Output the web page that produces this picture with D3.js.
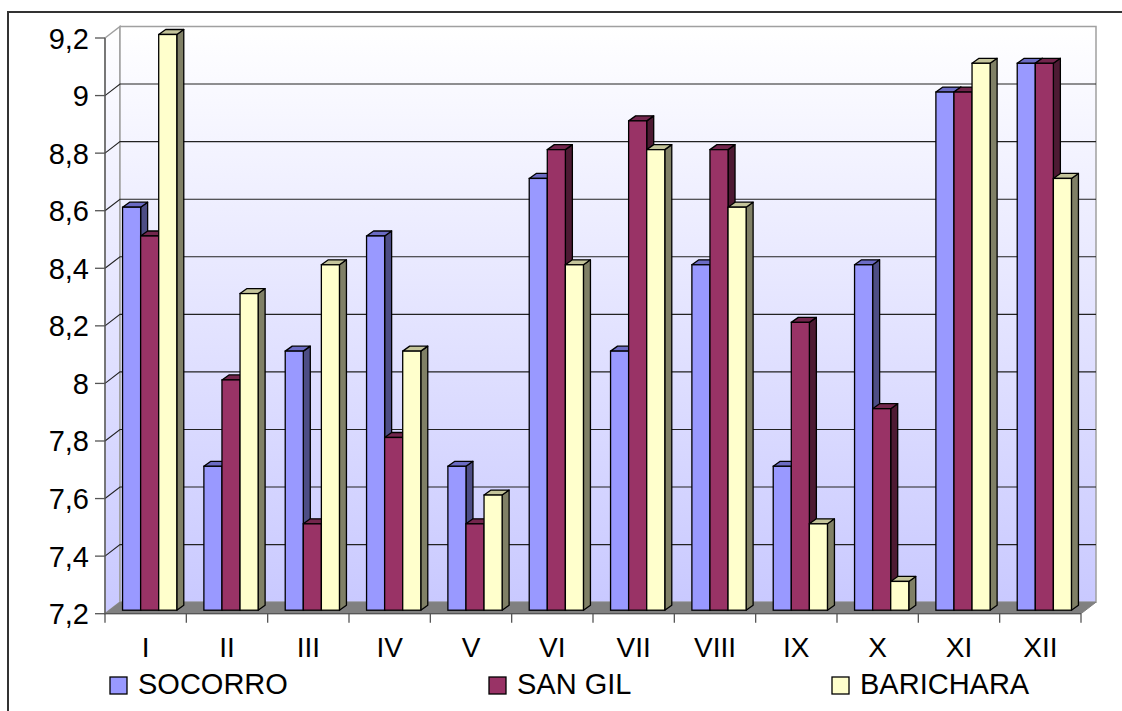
<!DOCTYPE html>
<html>
<head>
<meta charset="utf-8">
<script src="https://cdn.jsdelivr.net/npm/d3@7"></script>
<style>
  html, body { margin: 0; padding: 0; background: #ffffff; }
  svg { display: block; font-family: "Liberation Sans", Arial, sans-serif; }
</style>
</head>
<body>
<svg id="chart" width="1122" height="711"></svg>
<script>
const categories = ["I","II","III","IV","V","VI","VII","VIII","IX","X","XI","XII"];
const seriesNames = ["SOCORRO","SAN GIL","BARICHARA"];
const socorro   = [8.6, 7.7, 8.1, 8.5, 7.7, 8.7, 8.1, 8.4, 7.7, 8.4, 9.0, 9.1];
const sanGil    = [8.5, 8.0, 7.5, 7.8, 7.5, 8.8, 8.9, 8.8, 8.2, 7.9, 9.0, 9.1];
const barichara = [9.2, 8.3, 8.4, 8.1, 7.6, 8.4, 8.8, 8.6, 7.5, 7.3, 9.1, 8.7];
const yTicks = [7.2, 7.4, 7.6, 7.8, 8.0, 8.2, 8.4, 8.6, 8.8, 9.0, 9.2];
const yMin = 7.2, yMax = 9.2;

const seriesValues = [socorro, sanGil, barichara];
const palette = [
  {front: "#9999FF", top: "#6B6BC4", side: "#4D4D85"},
  {front: "#993366", top: "#73264D", side: "#4D1A33"},
  {front: "#FFFFCC", top: "#C4C49A", side: "#808066"}
];

const svg = d3.select("#chart");

// Outer frame (left + top visible)
svg.append("path").attr("d", "M8,711 L8,12 L1122,12")
  .attr("fill", "none").attr("stroke", "#333").attr("stroke-width", 2);

// geometry
const x0 = 105, x1 = 1081;
const depthX = 15, depthY = -11.5;
const x = d3.scaleBand().domain(categories).range([x0, x1]);
const y = d3.scaleLinear().domain([yMin, yMax]).range([613.7, 38]);
const inner = d3.scaleBand().domain(seriesNames).range([0, x.bandwidth()]).paddingInner(0).paddingOuter(0.75);

const defs = svg.append("defs");
const grad = defs.append("linearGradient").attr("id", "wallGrad")
  .attr("gradientUnits", "userSpaceOnUse")
  .attr("x1", 0).attr("y1", y(yMax) + depthY).attr("x2", 0).attr("y2", y(yMin));
grad.append("stop").attr("offset", "0%").attr("stop-color", "#FFFFFF");
grad.append("stop").attr("offset", "100%").attr("stop-color", "#C8C8FF");

const yTop = y(yMax), yBot = y(yMin);

// left wall
svg.append("path")
  .attr("d", `M${x0},${yTop} L${x0+depthX},${yTop+depthY} L${x0+depthX},${yBot+depthY} L${x0},${yBot} Z`)
  .attr("fill", "url(#wallGrad)").attr("stroke", "#A0A0A0").attr("stroke-width", 1.5);
// back wall
svg.append("path")
  .attr("d", `M${x0+depthX},${yTop+depthY} L${x1+depthX},${yTop+depthY} L${x1+depthX},${yBot+depthY} L${x0+depthX},${yBot+depthY} Z`)
  .attr("fill", "url(#wallGrad)").attr("stroke", "#A0A0A0").attr("stroke-width", 1.5);

// gridlines
const gridTicks = yTicks.filter(t => t > yMin + 1e-9 && t < yMax - 1e-9);
const g = svg.append("g");
gridTicks.forEach(t => {
  const yy = y(t);
  g.append("path")
    .attr("d", `M${x0},${yy} L${x0+depthX},${yy+depthY} L${x1+depthX},${yy+depthY}`)
    .attr("fill", "none").attr("stroke", "#222").attr("stroke-width", 1.1);
});

// floor
svg.append("path")
  .attr("d", `M${x0},${yBot} L${x1},${yBot} L${x1+depthX},${yBot+depthY} L${x0+depthX},${yBot+depthY} Z`)
  .attr("fill", "#808080").attr("stroke", "#808080").attr("stroke-width", 1);

// bars
const bx = 4, by = -3.5, bdx = 7, bdy = -5;
const bars = svg.append("g");
categories.forEach((c, ci) => {
  seriesNames.forEach((s, si) => {
    const v = seriesValues[si][ci];
    const col = palette[si];
    const fx = x(c) + inner(s) + bx;
    const w = inner.bandwidth();
    const ty = y(v) + by;
    const byy = y(yMin) + by;
    // side
    bars.append("path")
      .attr("d", `M${fx+w},${ty} L${fx+w+bdx},${ty+bdy} L${fx+w+bdx},${byy+bdy} L${fx+w},${byy} Z`)
      .attr("fill", col.side).attr("stroke", "#000").attr("stroke-width", 1.3).attr("stroke-linejoin", "round");
    // top
    bars.append("path")
      .attr("d", `M${fx},${ty} L${fx+bdx},${ty+bdy} L${fx+w+bdx},${ty+bdy} L${fx+w},${ty} Z`)
      .attr("fill", col.top).attr("stroke", "#000").attr("stroke-width", 1.3).attr("stroke-linejoin", "round");
    // front
    bars.append("rect")
      .attr("x", fx).attr("y", ty).attr("width", w).attr("height", byy - ty)
      .attr("fill", col.front).attr("stroke", "#000").attr("stroke-width", 1.3);
  });
});

// axes
const axisColor = "#555";
// y axis line and ticks
svg.append("line").attr("x1", x0).attr("x2", x0).attr("y1", yTop).attr("y2", yBot)
  .attr("stroke", axisColor).attr("stroke-width", 1.3);
const yAx = svg.append("g");
yTicks.forEach(t => {
  const yy = y(t);
  yAx.append("line").attr("x1", 95).attr("x2", x0).attr("y1", yy).attr("y2", yy)
    .attr("stroke", axisColor).attr("stroke-width", 1.3);
  yAx.append("text").attr("x", 89).attr("y", yy + 10.5)
    .attr("text-anchor", "end").attr("font-size", 29).attr("fill", "#000")
    .text(d3.format(".1f")(t).replace(".", ",").replace(/,0$/, ""));
});
// x axis line and ticks
svg.append("line").attr("x1", x0).attr("x2", x1).attr("y1", yBot).attr("y2", yBot)
  .attr("stroke", axisColor).attr("stroke-width", 1.3);
const xAx = svg.append("g");
const boundaries = categories.map(c => x(c)).concat([x1]);
boundaries.forEach(bx0 => {
  xAx.append("line").attr("x1", bx0).attr("x2", bx0).attr("y1", yBot).attr("y2", yBot + 9)
    .attr("stroke", axisColor).attr("stroke-width", 1.3);
});
categories.forEach(c => {
  xAx.append("text").attr("x", x(c) + x.bandwidth() / 2).attr("y", 657)
    .attr("text-anchor", "middle").attr("font-size", 28).attr("fill", "#000").text(c);
});

// legend
const legendX = [110, 489, 832];
const leg = svg.append("g");
seriesNames.forEach((s, i) => {
  leg.append("rect").attr("x", legendX[i]).attr("y", 677).attr("width", 17).attr("height", 17)
    .attr("fill", palette[i].front).attr("stroke", "#000").attr("stroke-width", 1.3);
  leg.append("text").attr("x", legendX[i] + 28).attr("y", 694)
    .attr("font-size", 29).attr("fill", "#000").text(s);
});
</script>
</body>
</html>
